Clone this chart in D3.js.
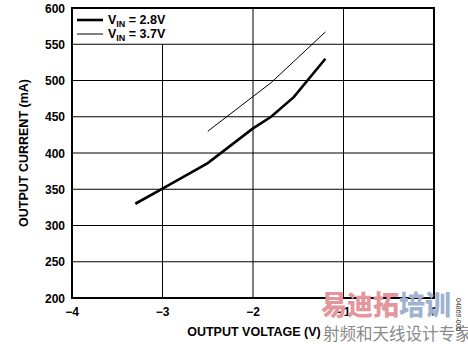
<!DOCTYPE html>
<html>
<head>
<meta charset="utf-8">
<script src="https://cdn.jsdelivr.net/npm/d3@7"></script>
<style>
  body { margin: 0; background: #fff; }
  svg text { font-family: "Liberation Sans", Arial, sans-serif; }
</style>
</head>
<body>
<div id="chart"></div>
<script>
// data
const vin28 = [[-3.3, 330], [-3.0, 351], [-2.5, 386], [-2.0, 434], [-1.8, 450], [-1.55, 477], [-1.2, 530]];
const vin37 = [[-2.5, 430], [-1.8, 497], [-1.2, 567]];
const xTicks = [-4, -3, -2, -1, 0];
const yTicks = [200, 250, 300, 350, 400, 450, 500, 550, 600];
const legendLabels = ["2.8V", "3.7V"];

const width = 468, height = 344;
const m = { left: 72, right: 34, top: 8, bottom: 46 };

const svg = d3.select("#chart").append("svg")
  .attr("width", width)
  .attr("height", height);

const x = d3.scaleLinear().domain([-4, 0]).range([m.left, width - m.right]);
const y = d3.scaleLinear().domain([200, 600]).range([height - m.bottom, m.top]);

// legend box area (no grid there)
const boxRight = 205;

// grid
svg.append("g").selectAll("line")
  .data(xTicks.slice(1, -1))
  .join("line")
  .attr("x1", d => x(d)).attr("x2", d => x(d))
  .attr("y1", d => x(d) < boxRight ? y(550) : y(600)).attr("y2", y(200))
  .attr("stroke", "#000").attr("stroke-width", 1);
svg.append("g").selectAll("line")
  .data(yTicks.slice(1, -1))
  .join("line")
  .attr("x1", x(-4)).attr("x2", x(0))
  .attr("y1", d => y(d)).attr("y2", d => y(d))
  .attr("stroke", "#000").attr("stroke-width", 1);

// frame
svg.append("rect")
  .attr("x", x(-4)).attr("y", y(600))
  .attr("width", x(0) - x(-4)).attr("height", y(200) - y(600))
  .attr("fill", "none").attr("stroke", "#000").attr("stroke-width", 2);

// tick labels
svg.append("g").selectAll("text")
  .data(yTicks)
  .join("text")
  .attr("x", m.left - 7).attr("y", d => y(d) + 4.5)
  .attr("text-anchor", "end")
  .attr("font-size", 12).attr("font-weight", "bold")
  .text(d => d);
svg.append("g").selectAll("text")
  .data(xTicks)
  .join("text")
  .attr("x", d => x(d)).attr("y", y(200) + 18)
  .attr("text-anchor", "middle")
  .attr("font-size", 12).attr("font-weight", "bold")
  .text(d => d === 0 ? "0" : "\u2212" + Math.abs(d));

// axis titles
svg.append("text")
  .attr("x", 254).attr("y", 336)
  .attr("text-anchor", "middle")
  .attr("font-size", 12.5).attr("font-weight", "bold")
  .text("OUTPUT VOLTAGE (V)");
svg.append("text")
  .attr("transform", "translate(28," + (y(200) + y(600)) / 2 + ") rotate(-90)")
  .attr("text-anchor", "middle")
  .attr("font-size", 12.5).attr("font-weight", "bold")
  .text("OUTPUT CURRENT (mA)");

// curves
const line = d3.line().x(d => x(d[0])).y(d => y(d[1]));
svg.append("path").datum(vin28)
  .attr("d", line).attr("fill", "none")
  .attr("stroke", "#000").attr("stroke-width", 2.6);
svg.append("path").datum(vin37)
  .attr("d", line).attr("fill", "none")
  .attr("stroke", "#000").attr("stroke-width", 1);

// legend
const lg = svg.append("g").attr("transform", "translate(77,20)");
legendLabels.forEach((lab, i) => {
  const row = lg.append("g").attr("transform", "translate(0," + i * 14 + ")");
  row.append("line").attr("x1", 0).attr("x2", 26)
    .attr("stroke", "#000").attr("stroke-width", i === 0 ? 2.6 : 1);
  const t = row.append("text").attr("x", 31).attr("y", 4)
    .attr("font-size", 12.5).attr("font-weight", "bold");
  t.append("tspan").text("V");
  t.append("tspan").attr("dy", 3).attr("font-size", 9).text("IN");
  t.append("tspan").attr("dy", -3).text(" = " + lab);
});

// watermark
const wm = svg.append("text").attr("x", 321).attr("y", 315)
  .attr("font-size", 27).attr("font-weight", 900)
  .attr("textLength", 130).attr("lengthAdjust", "spacingAndGlyphs")
  .style("font-family", "'Noto Sans CJK SC', sans-serif");
wm.append("tspan").attr("fill", "#e3979c").text("易迪拓");
wm.append("tspan").attr("fill", "#9fb3d0").text("培训");
svg.append("text").attr("x", 323).attr("y", 340)
  .attr("font-size", 16.5)
  .style("font-family", "'Noto Sans CJK SC', sans-serif")
  .attr("fill", "#8a8a8a")
  .text("射频和天线设计专家");
svg.append("text")
  .attr("transform", "translate(456,298) rotate(90)")
  .attr("font-size", 7)
  .attr("fill", "#333")
  .text("04869-005");
</script>
</body>
</html>
